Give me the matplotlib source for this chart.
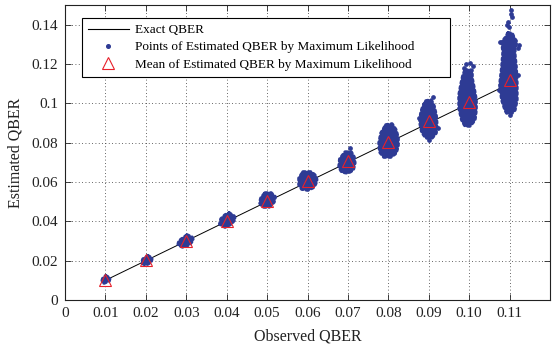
import matplotlib
matplotlib.use("Agg")
import matplotlib.pyplot as plt
from matplotlib.lines import Line2D

plt.rcParams['font.family'] = ['Liberation Serif', 'DejaVu Serif']

# observed QBER and mean of the ML estimates
observed = [0.01, 0.02, 0.03, 0.04, 0.05, 0.06, 0.07, 0.08, 0.09, 0.10, 0.11]
mean_est = [0.0101, 0.0201, 0.0302, 0.0401, 0.0505, 0.0605, 0.0705, 0.0805, 0.0910, 0.1008, 0.1117]

# envelopes of the dense point clouds (estimated QBER samples)
cloud_x = [
    [0.0101, 0.0111, 0.0109, 0.0096, 0.0092, 0.0094],
    [0.0205, 0.0215, 0.0213, 0.0200, 0.0190, 0.0193],
    [0.0302, 0.0314, 0.0317, 0.0307, 0.0292, 0.0280, 0.0282, 0.0292],
    [0.0406, 0.0418, 0.0421, 0.0411, 0.0396, 0.0383, 0.0386, 0.0396],
    [0.0495, 0.0510, 0.0520, 0.0517, 0.0505, 0.0490, 0.0482, 0.0485],
    [0.0589, 0.0609, 0.0621, 0.0623, 0.0616, 0.0601, 0.0586, 0.0579, 0.0579],
    [0.0693, 0.0708, 0.0715, 0.0717, 0.0713, 0.0700, 0.0685, 0.0678, 0.0680],
    [0.0794, 0.0809, 0.0819, 0.0824, 0.0824, 0.0819, 0.0806, 0.0789, 0.0779, 0.0777, 0.0782],
    [0.0893, 0.0906, 0.0913, 0.0918, 0.0920, 0.0918, 0.0908, 0.0893, 0.0883, 0.0878, 0.0881, 0.0886],
    [0.0990, 0.1007, 0.1007, 0.1012, 0.1017, 0.1017, 0.1014, 0.1002, 0.0990, 0.0982, 0.0975, 0.0975, 0.0980, 0.0985],
    [0.1096, 0.1106, 0.1111, 0.1118, 0.1113, 0.1113, 0.1116, 0.1118, 0.1118, 0.1113, 0.1106, 0.1093,
     0.1089, 0.1081, 0.1076, 0.1081, 0.1084, 0.1081, 0.1091],
]
cloud_y = [
    [0.0122, 0.0112, 0.0097, 0.0086, 0.0097, 0.0112],
    [0.0224, 0.0214, 0.0193, 0.0178, 0.0188, 0.0208],
    [0.0330, 0.0320, 0.0305, 0.0280, 0.0269, 0.0280, 0.0300, 0.0315],
    [0.0442, 0.0427, 0.0412, 0.0386, 0.0371, 0.0386, 0.0412, 0.0432],
    [0.0544, 0.0544, 0.0524, 0.0498, 0.0473, 0.0473, 0.0493, 0.0519],
    [0.0651, 0.0651, 0.0630, 0.0605, 0.0574, 0.0559, 0.0564, 0.0585, 0.0620],
    [0.0752, 0.0752, 0.0727, 0.0697, 0.0661, 0.0646, 0.0651, 0.0676, 0.0717],
    [0.0890, 0.0895, 0.0864, 0.0824, 0.0783, 0.0747, 0.0727, 0.0727, 0.0752, 0.0798, 0.0849],
    [0.1012, 0.1017, 0.0986, 0.0941, 0.0890, 0.0849, 0.0824, 0.0824, 0.0854, 0.0905, 0.0956, 0.0986],
    [0.1169, 0.1169, 0.1129, 0.1078, 0.1017, 0.0966, 0.0915, 0.0885, 0.0885, 0.0915, 0.0976, 0.1042, 0.1098, 0.1144],
    [0.1357, 0.1357, 0.1332, 0.1312, 0.1281, 0.1246, 0.1185, 0.1103, 0.1017, 0.0966, 0.0951, 0.0951,
     0.0966, 0.1017, 0.1093, 0.1185, 0.1261, 0.1312, 0.1337],
]

# stray estimates outside the dense clouds
stray_x = [0.0705, 0.0910, 0.0876, 0.0923, 0.0901, 0.0992, 0.1002, 0.1009, 0.0987,
           0.1103, 0.1103, 0.1106, 0.1096, 0.1093, 0.1098, 0.1123, 0.1076, 0.1121, 0.1074, 0.1121, 0.1101]
stray_y = [0.0773, 0.1032, 0.0925, 0.0874, 0.0813, 0.1200, 0.1205, 0.1190, 0.1180,
           0.1474, 0.1454, 0.1439, 0.1413, 0.1398, 0.1388, 0.1296, 0.1312, 0.1281, 0.1068, 0.1144, 0.0940]

x_ticks = [0, 0.01, 0.02, 0.03, 0.04, 0.05, 0.06, 0.07, 0.08, 0.09, 0.10, 0.11]
x_labels = ['0', '0.01', '0.02', '0.03', '0.04', '0.05', '0.06', '0.07', '0.08', '0.09', '0.10', '0.11']
y_ticks = [0, 0.02, 0.04, 0.06, 0.08, 0.10, 0.12, 0.14]
y_labels = ['0', '0.02', '0.04', '0.06', '0.08', '0.1', '0.12', '0.14']

blue = '#2e3b94'
red = '#e8202a'

fig = plt.figure(figsize=(5.55, 3.44), dpi=100)
ax = fig.add_axes([65 / 555, 44 / 344, 485 / 555, 295 / 344])

for xs, ys in zip(cloud_x, cloud_y):
    ax.fill(xs, ys, color=blue, lw=0, zorder=2)
    # ragged rim of single points around each cloud
    ax.plot(xs + xs[:1], ys + ys[:1], color=blue, lw=2.6, ls=(0, (0.6, 0.9)),
            dash_capstyle='round', zorder=2)
ax.plot(stray_x, stray_y, 'o', ms=2.4, color=blue, mec=blue, zorder=2)

ax.plot([observed[0], observed[-1]], [observed[0], observed[-1]], color='k', lw=0.7, zorder=1.5)
ax.plot(observed, mean_est, '^', ms=8.5, mfc='none', mec=red, mew=0.8, zorder=3)

ax.set_xlim(0, 0.12)
ax.set_ylim(0, 0.15)
ax.set_xticks(x_ticks)
ax.set_xticklabels(x_labels)
ax.set_yticks(y_ticks)
ax.set_yticklabels(y_labels)
ax.tick_params(direction='in', top=True, right=True, length=4, width=0.6,
               labelsize=11, colors='#222222', pad=5)
ax.grid(True, ls=(0, (1, 3)), color='#333333', lw=0.6)
ax.set_axisbelow(True)
for s in ax.spines.values():
    s.set_linewidth(0.8)
    s.set_color('#222222')

ax.set_xlabel('Observed QBER', fontsize=11.5, color='#222222', labelpad=6)
ax.set_ylabel('Estimated QBER', fontsize=11.5, color='#222222', labelpad=6)

handles = [
    Line2D([], [], color='k', lw=0.8),
    Line2D([], [], ls='none', marker='o', ms=2.6, color=blue),
    Line2D([], [], ls='none', marker='^', ms=8.5, mfc='none', mec=red, mew=0.8),
]
labels = ['Exact QBER', 'Points of Estimated QBER by Maximum Likelihood',
          'Mean of Estimated QBER by Maximum Likelihood']
leg = ax.legend(handles, labels, loc='upper left', bbox_to_anchor=(0.035, 0.75, 0.759, 0.206),
                mode='expand', fontsize=9.5, handlelength=3.1, handletextpad=0.5,
                labelspacing=0.38, borderpad=0.45, borderaxespad=0, fancybox=False,
                framealpha=1, edgecolor='k')
leg.get_frame().set_linewidth(0.8)

fig.savefig('out.png', dpi=100)
